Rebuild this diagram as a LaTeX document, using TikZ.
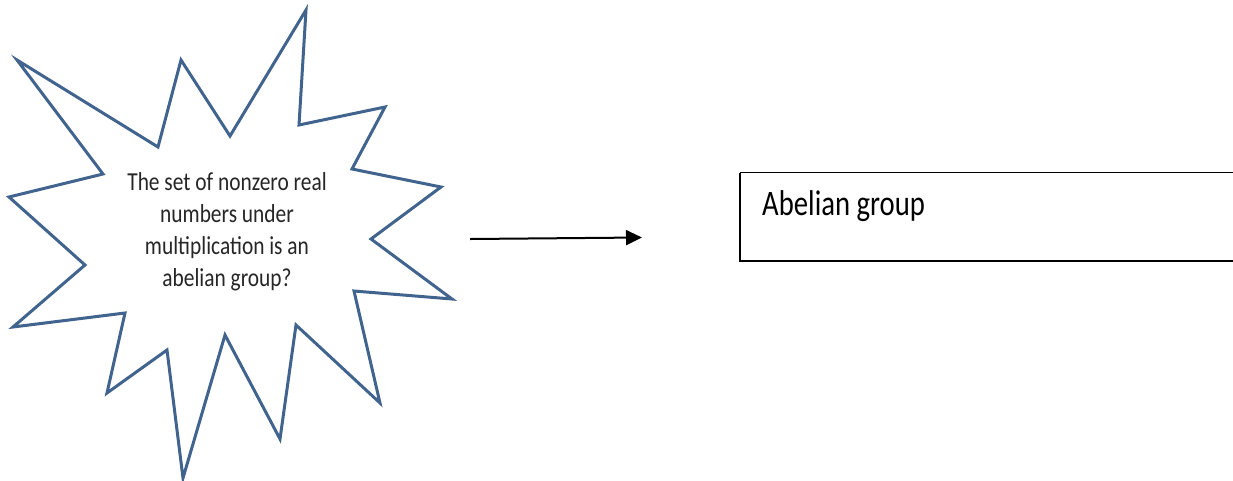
\documentclass[tikz,border=0pt]{standalone}
\usepackage{fontspec}
\setmainfont{Carlito}
\usetikzlibrary{arrows.meta}
\definecolor{starblue}{HTML}{41648F}
\tikzset{
  starline/.style={draw=starblue, line width=3pt, fill=white, line join=miter},
  startext/.style={align=center, inner sep=0pt, text=black!85, font=\fontsize{21.4}{26.6}\selectfont},
  boxstyle/.style={draw=black, line width=1.5pt},
  arr/.style={-{Triangle[length=16pt,width=15pt]}, line width=2pt}
}
\begin{document}
\begin{tikzpicture}[x=1pt,y=-1pt]
\useasboundingbox (0,0) rectangle (1233,480);
\draw[starline] (306,10) -- (299,125) -- (385,107) -- (352,169) -- (441,187) -- (371,239)
 -- (452,299) -- (354,291) -- (380,403) -- (296,325) -- (280,439) -- (225,335)
 -- (183,478) -- (167,350) -- (107,393) -- (125,313) -- (13,327) -- (85,265)
 -- (9,197) -- (103,174) -- (17,60) -- (158,147) -- (181,60) -- (230,136) -- cycle;
\node[startext, anchor=base] (q) at (227,190) {\scalebox{1}[1.21]{\begin{tabular}[t]{@{}c@{}}The set of nonzero real\\numbers under\\multiplication is an\\abelian group?\end{tabular}}};
\coordinate (a1) at (470,239);
\coordinate (a2) at (642,237.5);
\draw[arr] (a1) -- (a2);
\draw[boxstyle] (740,172.5) -- (1240,172.5) (740,172.5) -- (740,261) -- (1240,261);
\node[anchor=base west, inner sep=0pt, font=\fontsize{28.7}{34}\selectfont] (ans) at (762,215) {\scalebox{1}[1.25]{Abelian group}};
\end{tikzpicture}
\end{document}
